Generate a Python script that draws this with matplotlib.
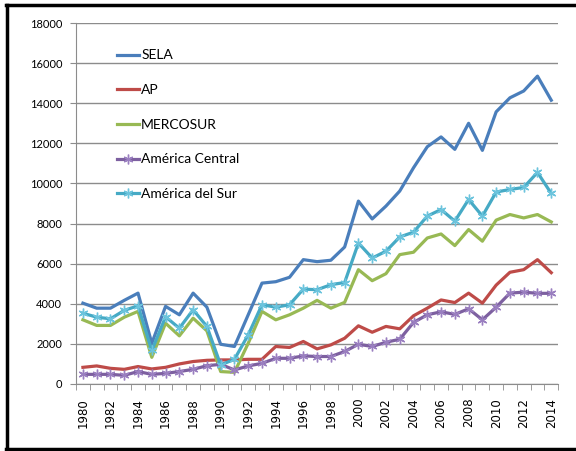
import matplotlib
matplotlib.use('Agg')
import matplotlib.pyplot as plt
import numpy as np
from matplotlib.lines import Line2D

years = list(range(1980, 2015))

sela = [4030, 3780, 3780, 4170, 4530, 2030, 3870, 3450, 4530, 3830,
        1980, 1870, 3450, 5030, 5100, 5320, 6200, 6100, 6170, 6830,
        9120, 8230, 8870, 9620, 10780, 11830, 12320, 11700, 13000, 11650,
        13570, 14270, 14610, 15350, 14150]
ap = [830, 900, 780, 730, 870, 750, 830, 1000, 1120, 1180,
      1200, 1200, 1230, 1230, 1870, 1820, 2120, 1750, 1950, 2280,
      2900, 2580, 2870, 2750, 3400, 3780, 4190, 4060, 4530, 4030,
      4930, 5570, 5700, 6200, 5550]
mercosur = [3200, 2920, 2920, 3330, 3620, 1330, 3030, 2400, 3280, 2650,
            620, 580, 2030, 3620, 3200, 3450, 3780, 4170, 3780, 4070,
            5700, 5150, 5500, 6450, 6570, 7280, 7480, 6900, 7700, 7120,
            8170, 8450, 8280, 8450, 8080]
am_central = [480, 480, 480, 430, 620, 480, 530, 620, 730, 910,
              980, 700, 900, 1030, 1280, 1280, 1400, 1370, 1370, 1620,
              1980, 1870, 2080, 2230, 3070, 3450, 3600, 3470, 3750, 3200,
              3830, 4530, 4580, 4520, 4520]
am_sur = [3530, 3330, 3250, 3670, 3900, 1670, 3350, 2780, 3700, 2870,
          950, 1230, 2450, 3950, 3830, 3950, 4730, 4700, 4950, 5060,
          7030, 6280, 6620, 7330, 7570, 8370, 8700, 8120, 9200, 8370,
          9570, 9700, 9800, 10550, 9500]

x = np.arange(len(years))

fig = plt.figure(figsize=(5.76, 4.51), dpi=100)
ax = fig.add_axes([0.132, 0.1486, 0.837, 0.8004])

lw = 2.3
star = (6, 2, 0)
ax.plot(x, sela, color='#4A7EBB', lw=lw, label='SELA', zorder=3)
ax.plot(x, ap, color='#BE4B48', lw=lw, label='AP', zorder=3)
ax.plot(x, mercosur, color='#98B954', lw=lw, label='MERCOSUR', zorder=3)
ax.plot(x, am_central, color='#7D60A0', lw=lw, marker=star, ms=7,
        mec='#9A7FC0', mew=1.0, label='América Central', zorder=3)
ax.plot(x, am_sur, color='#46AAC5', lw=lw, marker=star, ms=7,
        mec='#6CC4DD', mew=1.0, label='América del Sur', zorder=3)

ax.set_xlim(-0.5, len(years) - 0.5)
ax.set_ylim(0, 18000)
ax.set_yticks(np.arange(0, 18001, 2000))
ax.yaxis.grid(True, color='#8C8C8C', lw=1.0)
ax.set_axisbelow(True)

ax.set_xticks(x[::2])
ax.set_xticklabels([str(y) for y in years[::2]], rotation=90,
                   fontsize=8.5, family='DejaVu Sans')
ax.set_xticks(np.arange(-0.5, len(years)), minor=True)
ax.tick_params(axis='x', which='major', length=0, pad=10)
ax.tick_params(axis='x', which='minor', length=4, color='#8C8C8C')
ax.tick_params(axis='y', length=4, color='#8C8C8C', pad=6, labelsize=8)
for lab in ax.get_yticklabels():
    lab.set_family('Lato')

for s in ['top', 'right']:
    ax.spines[s].set_visible(False)
ax.spines['left'].set_color('#8C8C8C')
ax.spines['bottom'].set_color('#8C8C8C')

ax.legend(loc='upper left', bbox_to_anchor=(0.073, 0.942), frameon=False,
          prop={'family': 'Lato', 'size': 10}, handlelength=1.6,
          handletextpad=0.15, labelspacing=1.63, borderaxespad=0)

# outer frame
fig.add_artist(Line2D([0.012, 0.012], [0.004, 0.990], color='black', lw=2.5,
                      transform=fig.transFigure))
fig.add_artist(Line2D([0.010, 1.0], [0.990, 0.990], color='black', lw=2.5,
                      transform=fig.transFigure))
fig.add_artist(Line2D([0.010, 1.0], [0.005, 0.005], color='black', lw=2.5,
                      transform=fig.transFigure))

plt.savefig('out.png', dpi=100)
